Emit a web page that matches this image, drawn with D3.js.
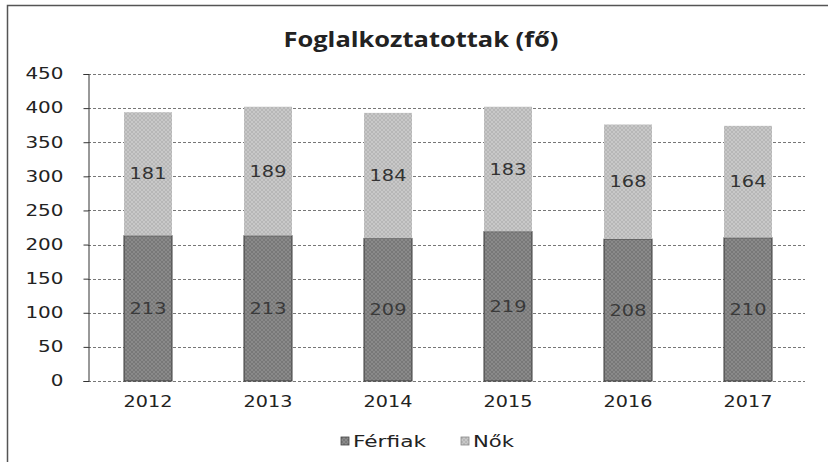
<!DOCTYPE html>
<html><head><meta charset="utf-8">
<script src="https://cdn.jsdelivr.net/npm/d3@7"></script>
<style>body{margin:0;background:#fff;}svg{display:block;}</style>
</head><body>
<script>
const years = ["2012","2013","2014","2015","2016","2017"];
const ferfiak = [213,213,209,219,208,210];
const nok = [181,189,184,183,168,164];
const yTicks = [0,50,100,150,200,250,300,350,400,450];
const seriesNames = ["Férfiak","Nők"];

const W=828,H=462;
const FONT="DejaVu Sans, Verdana, sans-serif";
const svg=d3.select("body").append("svg").attr("width",W).attr("height",H);
const defs=svg.append("defs");
function pat(id,base,line){
  const p=defs.append("pattern").attr("id",id).attr("patternUnits","userSpaceOnUse").attr("width",4).attr("height",4);
  p.append("rect").attr("width",4).attr("height",4).attr("fill",base);
  p.append("path").attr("d","M0,4L4,0M0,0L4,4").attr("stroke",line).attr("stroke-width",0.6).attr("opacity",0.6);
}
pat("pf","#8a8a8a","#555");
pat("pn","#c8c8c8","#959595");

// stretch helper: wide scanned glyphs
function stretch(sel,perChar){
  sel.each(function(){
    const t=d3.select(this); const s=t.text();
    t.attr("textLength",s.length*perChar).attr("lengthAdjust","spacingAndGlyphs");
  });
}

// outer border
svg.append("path").attr("d","M7.5,462V5.5H828").attr("fill","none").attr("stroke","#555").attr("stroke-width",1.5);

svg.append("text").attr("x",421).attr("y",47).attr("text-anchor","middle")
  .attr("font-family","Open Sans, sans-serif").attr("font-weight","bold").attr("font-size",21)
  .attr("fill","#222").attr("textLength",275).attr("lengthAdjust","spacingAndGlyphs")
  .text("Foglalkoztatottak (fő)");

const x=d3.scaleBand().domain(years).range([88,808]).paddingInner(0.6).paddingOuter(0.3);
const y=d3.scaleLinear().domain([0,450]).range([381,74]);

// gridlines
svg.append("g").selectAll("line").data(yTicks).join("line")
  .attr("x1",88).attr("x2",805).attr("y1",d=>Math.round(y(d))+0.5).attr("y2",d=>Math.round(y(d))+0.5)
  .attr("stroke","#777").attr("stroke-width",1).attr("stroke-dasharray","3,2");

const yAxis=svg.append("g").attr("transform","translate(88.5,0)")
  .call(d3.axisLeft(y).tickValues(yTicks).tickSize(5).tickPadding(20));
yAxis.select(".domain").attr("stroke","#333");
yAxis.selectAll(".tick line").attr("stroke","#333");
yAxis.selectAll("text").attr("font-family",FONT).attr("font-size",15).attr("fill","#222").call(stretch,12.7);

const xAxis=svg.append("g").attr("transform","translate(0,381)")
  .call(d3.axisBottom(x).tickSize(0).tickPadding(15));
xAxis.select(".domain").remove();
xAxis.selectAll("text").attr("font-family",FONT).attr("font-size",15).attr("fill","#222").call(stretch,12.2);

const stack=years.map((yr,i)=>({yr,f:ferfiak[i],n:nok[i]}));
const bars=svg.append("g");
bars.selectAll(".f").data(stack).join("rect")
  .attr("x",d=>x(d.yr)).attr("width",x.bandwidth())
  .attr("y",d=>y(d.f)).attr("height",d=>y(0)-y(d.f))
  .attr("fill","url(#pf)").attr("stroke","#3a3a3a").attr("stroke-width",1);
bars.selectAll(".n").data(stack).join("rect")
  .attr("x",d=>x(d.yr)).attr("width",x.bandwidth())
  .attr("y",d=>y(d.f+d.n)).attr("height",d=>y(d.f)-y(d.f+d.n))
  .attr("fill","url(#pn)");

const lab=svg.append("g").attr("font-family",FONT).attr("font-size",15).attr("text-anchor","middle");
lab.selectAll(".lf").data(stack).join("text")
  .attr("x",d=>x(d.yr)+x.bandwidth()/2).attr("y",d=>y(d.f/2)+5.5)
  .attr("fill","#3a3a3a").text(d=>d.f).call(stretch,12.3);
lab.selectAll(".ln").data(stack).join("text")
  .attr("x",d=>x(d.yr)+x.bandwidth()/2).attr("y",d=>y(d.f+d.n/2)+5.5)
  .attr("fill","#333").text(d=>d.n).call(stretch,12.3);

// legend
const lg=svg.append("g").attr("font-family",FONT).attr("font-size",16).attr("fill","#222");
const lx=[341,461];
const lw=[73,41];
seriesNames.forEach((s,i)=>{
  lg.append("rect").attr("x",lx[i]).attr("y",437).attr("width",8).attr("height",8).attr("fill",i?"url(#pn)":"url(#pf)").attr("stroke",i?"#888":"#444").attr("stroke-width",0.8);
  lg.append("text").attr("x",lx[i]+12).attr("y",447).attr("textLength",lw[i]).attr("lengthAdjust","spacingAndGlyphs").text(s);
});
</script>
</body></html>
